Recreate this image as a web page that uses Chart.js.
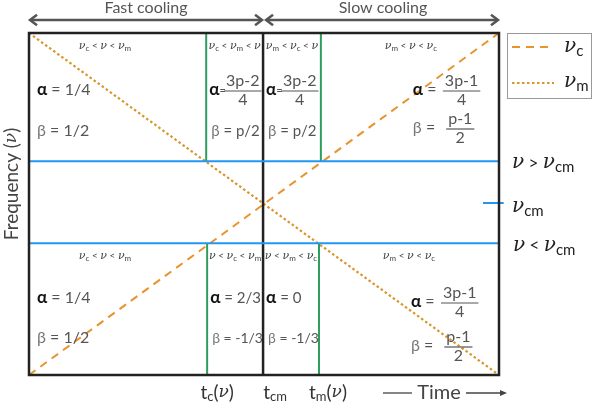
<!DOCTYPE html>
<html>
<head>
<meta charset="utf-8">
<script src="https://cdn.jsdelivr.net/npm/chart.js@4.4.1/dist/chart.umd.min.js"></script>
<style>
  body { margin: 0; background: #fff; }
  #wrap { width: 595px; height: 405px; position: relative; }
</style>
</head>
<body>
<div id="wrap"><canvas id="regimeChart"></canvas></div>
<script>
// time runs 0..1 along x, frequency 0..1 along y
const timeEnds = [0, 1];
const nuCValues = [0, 1];      // cooling frequency rises with time
const nuMValues = [1, 0];      // injection frequency falls with time
const nuBands = [0.625, 0.385]; // nu > nu_cm and nu < nu_cm
const nuCm = 0.503;
const tCm = 0.498;
const greenUpper = [0.377, 0.621];
const greenLower = [0.379, 0.617];
const bottomTicks = ['c', 'cm', 'm']; // t_c(nu), t_cm, t_m(nu)

// text of the eight regions (top row then bottom row, left to right)
const regionRanges = [
    ['c', '<', '', '<', 'm'], ['c', '<', 'm', '<', ''], ['m', '<', 'c', '<', ''], ['m', '<', '', '<', 'c'],
    ['c', '<', '', '<', 'm'], ['', '<', 'c', '<', 'm'], ['', '<', 'm', '<', 'c'], ['m', '<', '', '<', 'c']
];
const regionAlpha = ['1/4', '3p-2|4', '3p-2|4', '3p-1|4', '1/4', '2/3', '0', '3p-1|4'];
const regionBeta = ['1/2', 'p/2', 'p/2', 'p-1|2', '1/2', '-1/3', '-1/3', 'p-1|2'];

const SANS = 'Lato, "Open Sans", sans-serif';
const SERIF = '"DejaVu Serif", "Liberation Serif", serif';
const ORANGE = '#E8932C';
const DOTTED = '#D8962A';
const BLUE = '#2196F3';
const GREEN = '#2E9E5E';
const GREY = '#555';

function line(xs, ys, color, extra) {
    return Object.assign({
        data: xs.map((x, i) => ({ x: x, y: ys[i] })),
        borderColor: color,
        borderWidth: 2,
        pointRadius: 0,
        fill: false
    }, extra || {});
}

const datasets = [
    line(timeEnds, [nuBands[0], nuBands[0]], BLUE),
    line(timeEnds, [nuBands[1], nuBands[1]], BLUE),
    line([0.966, 1.01], [nuCm, nuCm], BLUE, { clip: false }),
    line([greenUpper[0], greenUpper[0]], [nuBands[0], 1], GREEN),
    line([greenUpper[1], greenUpper[1]], [nuBands[0], 1], GREEN),
    line([greenLower[0], greenLower[0]], [0, nuBands[1]], GREEN),
    line([greenLower[1], greenLower[1]], [0, nuBands[1]], GREEN),
    line([tCm, tCm], [0, 1], '#222', { borderWidth: 2.5 }),
    line(timeEnds, nuCValues, ORANGE, { borderDash: [8, 6] }),
    line(timeEnds, nuMValues, DOTTED, { borderDash: [2.5, 2.5], borderWidth: 2.2 })
];

// draws a row of text pieces: [text, font, colour, dy]
function rich(ctx, x, y, parts, align) {
    let w = 0;
    parts.forEach(p => { ctx.font = p[1]; w += ctx.measureText(p[0]).width; });
    let cx = align === 'center' ? x - w / 2 : x;
    ctx.textAlign = 'left';
    ctx.textBaseline = 'middle';
    parts.forEach(p => {
        ctx.font = p[1];
        ctx.fillStyle = p[2];
        ctx.fillText(p[0], cx, y + (p[3] || 0));
        cx += ctx.measureText(p[0]).width;
    });
    return w;
}

function nu(sub, size, color) {
    const parts = [['ν', 'italic ' + size + 'px ' + SERIF, color, 0]];
    if (sub) parts.push([sub, Math.round(size * 0.75) + 'px ' + SANS, color, size * 0.22]);
    return parts;
}

function rangeParts(r, size) {
    const c = '#444';
    let parts = [];
    parts = parts.concat(nu(r[0], size, c));
    parts.push([' < ', (size - 1) + 'px ' + SANS, c, 0]);
    parts = parts.concat(nu(r[2], size, c));
    parts.push([' < ', (size - 1) + 'px ' + SANS, c, 0]);
    parts = parts.concat(nu(r[4], size, c));
    return parts;
}

function frac(ctx, cx, y, num, den, size, color) {
    ctx.font = size + 'px ' + SANS;
    const w = Math.max(ctx.measureText(num).width, ctx.measureText(den).width) + 4;
    ctx.fillStyle = color;
    ctx.textAlign = 'center';
    ctx.textBaseline = 'middle';
    ctx.fillText(num, cx, y - 9);
    ctx.fillText(den, cx, y + 10);
    ctx.strokeStyle = color;
    ctx.lineWidth = 1.2;
    ctx.beginPath();
    ctx.moveTo(cx - w / 2, y + 1);
    ctx.lineTo(cx + w / 2, y + 1);
    ctx.stroke();
}

function chevron(ctx, x, y, dir, len) {
    ctx.beginPath();
    ctx.moveTo(x - dir * len, y - len * 0.75);
    ctx.lineTo(x, y);
    ctx.lineTo(x - dir * len, y + len * 0.75);
    ctx.stroke();
}

function coef(ctx, sym, val, x, y, wide, symColor, symFont, size) {
    if (val.indexOf('|') >= 0) {
        const nd = val.split('|');
        if (wide) {
            const w = rich(ctx, x, y, [[sym, symFont, symColor, 0], [' = ', size + 'px ' + SANS, '#555', 0]]);
            frac(ctx, x + w + 21, y, nd[0], nd[1], 16, '#555');
        } else {
            const w = rich(ctx, x, y, [[sym, symFont, symColor, 0], ['=', '11px ' + SANS, '#555', 0]]);
            frac(ctx, x + w + 17, y, nd[0], nd[1], 16, '#555');
        }
    } else {
        rich(ctx, x, y, [[sym, symFont, symColor, 0], [' = ' + val, size + 'px ' + SANS, '#555', 0]]);
    }
}

const annotations = {
    id: 'annotations',
    afterDatasetsDraw(chart) {
        const ctx = chart.ctx;
        const xs = chart.scales.x, ys = chart.scales.y;
        const a = chart.chartArea;
        ctx.save();

        // frame
        ctx.strokeStyle = '#222';
        ctx.lineWidth = 2.5;
        ctx.strokeRect(a.left, a.top, a.right - a.left, a.bottom - a.top);

        // cooling arrows on top
        const xL = xs.getPixelForValue(0), xM = xs.getPixelForValue(tCm), xR = xs.getPixelForValue(1);
        ctx.strokeStyle = GREY;
        ctx.lineWidth = 2.5;
        [[xL + 1, xM - 1], [xM + 3, xR - 1]].forEach(s => {
            ctx.beginPath();
            ctx.moveTo(s[0], 20);
            ctx.lineTo(s[1], 20);
            ctx.stroke();
            chevron(ctx, s[0], 20, -1, 7);
            chevron(ctx, s[1], 20, 1, 7);
        });
        ctx.fillStyle = GREY;
        ctx.font = '16px ' + SANS;
        ctx.textAlign = 'center';
        ctx.textBaseline = 'middle';
        ctx.fillText('Fast cooling', (xL + xM) / 2, 8);
        ctx.fillText('Slow cooling', (xM + xR) / 2 + 2, 8);

        // region text
        const gU0 = xs.getPixelForValue(greenUpper[0]), gU1 = xs.getPixelForValue(greenUpper[1]);
        const gL0 = xs.getPixelForValue(greenLower[0]), gL1 = xs.getPixelForValue(greenLower[1]);
        const rows = [
            { lab: 46, al: 90, be: 131, bounds: [xL, gU0, xM, gU1, xR] },
            { lab: 256, al: 298, be: 338, bounds: [xL, gL0, xM, gL1, xR] }
        ];
        rows.forEach((row, ri) => {
            for (let k = 0; k < 4; k++) {
                const idx = ri * 4 + k;
                const l = row.bounds[k], r = row.bounds[k + 1];
                const narrow = k === 1 || k === 2;
                let lx = (l + r) / 2, ly = row.lab;
                if (k === 0) lx = l + 76;
                if (k === 3) lx = l + 90;
                rich(ctx, lx, ly, rangeParts(regionRanges[idx], 11), 'center');
                let tx = l + 8;
                if (narrow) tx = l + 3;
                if (k === 3) tx = l + 92;
                const wide = k === 3;
                let alY = row.al, beY = row.be;
                if (k === 3) { alY += ri ? 4 : 0; beY += ri ? 8 : -3; }
                const sz = narrow ? 15 : 16;
                const bsz = narrow && regionBeta[idx].length > 3 ? 14 : sz;
                coef(ctx, 'α', regionAlpha[idx], tx, alY, wide, '#111', 'bold 17px ' + SANS, sz);
                coef(ctx, 'β', regionBeta[idx], tx + (narrow ? 2 : 0), beY, wide, '#777', bsz + 'px ' + SANS, bsz);
            }
        });

        // labels right of the frame
        const yU = ys.getPixelForValue(nuBands[0]), yLo = ys.getPixelForValue(nuBands[1]), yC = ys.getPixelForValue(nuCm);
        rich(ctx, a.right + 13, yU + 2, nu('', 20, '#222').concat([[' > ', '17px ' + SANS, '#222', 0]], nu('cm', 20, '#222')));
        rich(ctx, a.right + 13, yC + 4, nu('cm', 20, '#222'));
        rich(ctx, a.right + 14, yLo + 2, nu('', 20, '#222').concat([[' < ', '17px ' + SANS, '#222', 0]], nu('cm', 20, '#222')));

        // legend box
        ctx.strokeStyle = '#999';
        ctx.lineWidth = 1;
        ctx.strokeRect(a.right + 8.5, a.top + 0.5, 84, 65);
        ctx.lineWidth = 2;
        ctx.strokeStyle = ORANGE;
        ctx.setLineDash([8, 6]);
        ctx.beginPath(); ctx.moveTo(a.right + 13, 47); ctx.lineTo(a.right + 55, 47); ctx.stroke();
        ctx.strokeStyle = DOTTED;
        ctx.lineWidth = 2.2;
        ctx.setLineDash([2.5, 2.5]);
        ctx.beginPath(); ctx.moveTo(a.right + 13, 83); ctx.lineTo(a.right + 55, 83); ctx.stroke();
        ctx.setLineDash([]);
        rich(ctx, a.right + 65, 47, nu('c', 20, '#222'));
        rich(ctx, a.right + 65, 82, nu('m', 20, '#222'));

        // time labels under the frame
        const tickAt = [greenLower[0], tCm, greenLower[1]];
        const tickShift = [10, 12, 9];
        bottomTicks.forEach((s, i) => {
            const px = xs.getPixelForValue(tickAt[i]) + tickShift[i];
            let parts = [['t', '19px ' + SANS, '#333', 0], [s, '13px ' + SANS, '#333', 4]];
            if (s !== 'cm') parts = parts.concat([['(', '19px ' + SANS, '#333', 0], ['ν', 'italic 17px ' + SERIF, '#333', 0], [')', '19px ' + SANS, '#333', 0]]);
            rich(ctx, px, 393, parts, 'center');
        });
        ctx.fillStyle = '#444';
        ctx.font = '20px ' + SANS;
        ctx.textAlign = 'center';
        ctx.fillText('Time', 439, 393);
        ctx.strokeStyle = '#444';
        ctx.lineWidth = 1.3;
        ctx.beginPath(); ctx.moveTo(383, 393); ctx.lineTo(412, 393); ctx.stroke();
        ctx.beginPath(); ctx.moveTo(466, 393); ctx.lineTo(504, 393); ctx.stroke();
        ctx.fillStyle = '#444';
        ctx.beginPath(); ctx.moveTo(507, 393); ctx.lineTo(500, 390); ctx.lineTo(500, 396); ctx.closePath(); ctx.fill();

        // y title
        ctx.save();
        ctx.translate(12, 184);
        ctx.rotate(-Math.PI / 2);
        rich(ctx, 0, 0, [['Frequency (', '19px ' + SANS, '#444', 0], ['ν', 'italic 17px ' + SERIF, '#444', 0], [')', '19px ' + SANS, '#444', 0]], 'center');
        ctx.restore();

        ctx.restore();
    }
};

new Chart(document.getElementById('regimeChart').getContext('2d'), {
    type: 'line',
    data: { datasets: datasets },
    options: {
        responsive: true,
        maintainAspectRatio: false,
        animation: false,
        layout: { padding: { left: 29, right: 96, top: 33, bottom: 30 } },
        scales: {
            x: { type: 'linear', min: 0, max: 1, display: false },
            y: { type: 'linear', min: 0, max: 1, display: false }
        },
        plugins: {
            legend: { display: false },
            tooltip: { enabled: false }
        }
    },
    plugins: [annotations]
});
</script>
</body>
</html>
